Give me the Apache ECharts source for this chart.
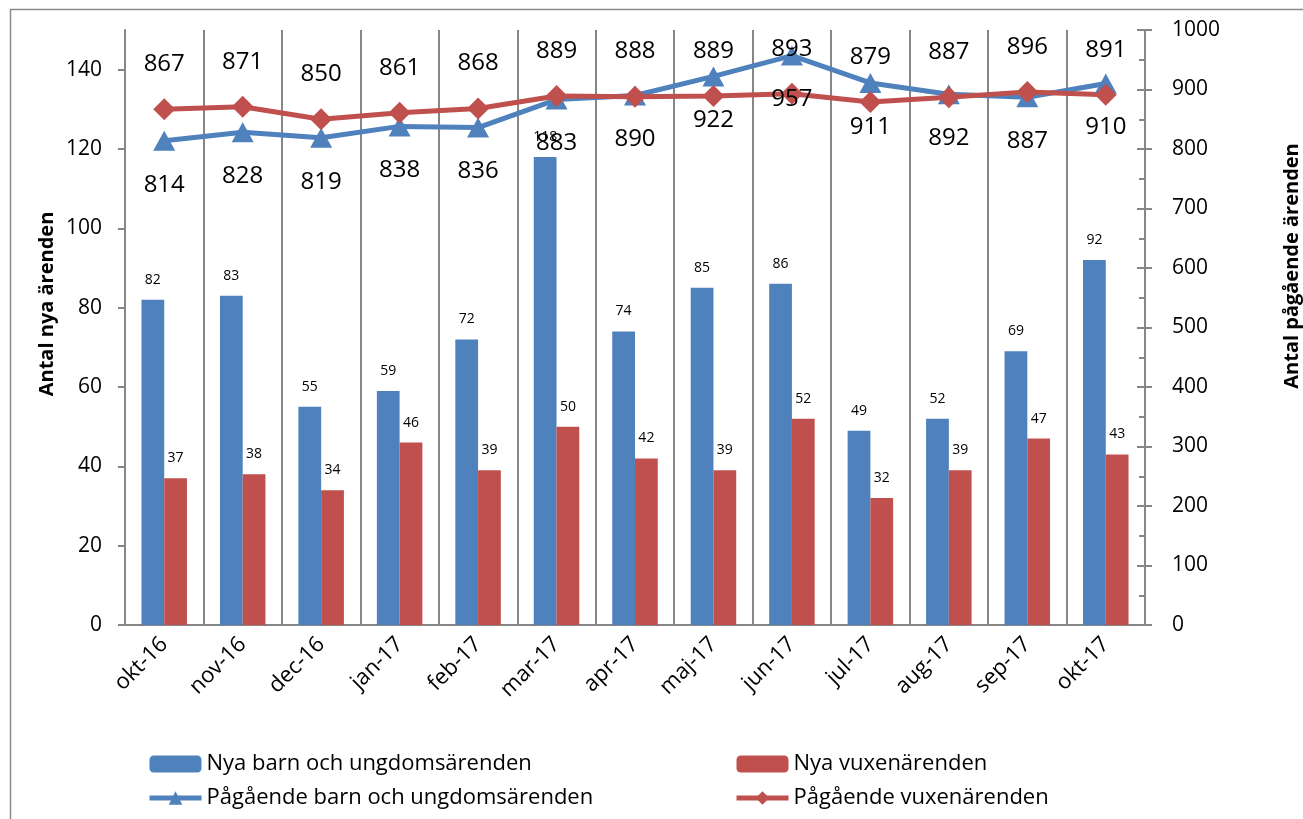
<!DOCTYPE html>
<html>
<head>
<meta charset="utf-8">
<script src="https://cdn.jsdelivr.net/npm/echarts@6/dist/echarts.min.js"></script>
<style>
  html, body { margin: 0; padding: 0; background: #fff; }
  #chart { width: 1303px; height: 819px; }
</style>
</head>
<body>
<div id="chart"></div>
<script>
  // data
  const months = ['okt-16', 'nov-16', 'dec-16', 'jan-17', 'feb-17', 'mar-17', 'apr-17',
    'maj-17', 'jun-17', 'jul-17', 'aug-17', 'sep-17', 'okt-17']
  const nyaBarn = [82, 83, 55, 59, 72, 118, 74, 85, 86, 49, 52, 69, 92]
  const nyaVuxen = [37, 38, 34, 46, 39, 50, 42, 39, 52, 32, 39, 47, 43]
  const pagBarn = [814, 828, 819, 838, 836, 883, 890, 922, 957, 911, 892, 887, 910]
  const pagVuxen = [867, 871, 850, 861, 868, 889, 888, 889, 893, 879, 887, 896, 891]

  const names = ['Nya barn och ungdomsärenden', 'Nya vuxenärenden',
    'Pågående barn och ungdomsärenden', 'Pågående vuxenärenden']

  const blue = '#4F81BD'
  const red = '#C0504D'
  const grey = '#868686'
  const font = '"Open Sans", sans-serif'

  const chart = echarts.init(document.getElementById('chart'))

  const legendText = { fontFamily: font, fontSize: 22, color: '#000', lineHeight: 26 }
  const legendBase = {
    orient: 'vertical',
    top: 746,
    itemWidth: 52,
    itemHeight: 17,
    itemGap: 8,
    lineStyle: { width: 5 },
    textStyle: legendText
  }

  chart.setOption({
    animation: false,
    backgroundColor: '#fff',
    textStyle: { fontFamily: font },
    grid: { left: 125, right: 158, top: 30, bottom: 194 },
    legend: [
      Object.assign({ data: [names[0], names[2]], left: 142 }, legendBase),
      Object.assign({ data: [names[1], names[3]], left: 729 }, legendBase)
    ],
    xAxis: {
      type: 'category',
      data: months,
      axisLine: { lineStyle: { color: grey, width: 2 } },
      axisTick: { length: 8, lineStyle: { color: grey, width: 2 } },
      splitLine: { show: true, lineStyle: { color: grey, width: 2 } },
      axisLabel: { rotate: 45, margin: 16, fontSize: 22, color: '#000', fontFamily: font }
    },
    yAxis: [{
      type: 'value',
      min: 0,
      max: 150,
      interval: 20,
      axisLine: { show: true, lineStyle: { color: grey, width: 2 } },
      axisTick: { show: true, length: 7, lineStyle: { color: grey, width: 2 } },
      splitLine: { show: false },
      axisLabel: { showMaxLabel: false, margin: 23, fontSize: 21, color: '#000', fontFamily: font }
    }, {
      type: 'value',
      position: 'right',
      min: 0,
      max: 1000,
      interval: 100,
      axisLine: { show: true, lineStyle: { color: grey, width: 2 } },
      axisTick: { show: true, inside: true, length: 8, lineStyle: { color: grey, width: 2 } },
      minorTick: { show: true, splitNumber: 2, length: 6, lineStyle: { color: grey, width: 2 } },
      splitLine: { show: false },
      axisLabel: {
        margin: 27, fontSize: 21, color: '#000', fontFamily: font,
        formatter: function(v) { return String(v) }
      }
    }, {
      // outer half of the crossing ticks on the right axis
      type: 'value',
      position: 'right',
      min: 0,
      max: 1000,
      interval: 100,
      axisLine: { show: false },
      axisTick: { show: true, length: 7, lineStyle: { color: grey, width: 2 } },
      splitLine: { show: false },
      axisLabel: { show: false }
    }],
    series: [{
      name: names[0],
      type: 'bar',
      data: nyaBarn,
      barGap: '0%',
      barCategoryGap: '42%',
      itemStyle: { color: blue },
      label: { show: true, position: 'top', distance: 13, fontSize: 14, color: '#000', fontFamily: font }
    }, {
      name: names[1],
      type: 'bar',
      data: nyaVuxen,
      itemStyle: { color: red },
      label: { show: true, position: 'top', distance: 13, fontSize: 14, color: '#000', fontFamily: font }
    }, {
      name: names[2],
      type: 'line',
      yAxisIndex: 1,
      data: pagBarn,
      symbol: 'triangle',
      symbolSize: [22, 20],
      lineStyle: { color: blue, width: 5 },
      itemStyle: { color: blue },
      label: { show: true, position: 'bottom', distance: 22, fontSize: 24, color: '#000', fontFamily: font }
    }, {
      name: names[3],
      type: 'line',
      yAxisIndex: 1,
      data: pagVuxen,
      symbol: 'diamond',
      symbolSize: [22, 22],
      lineStyle: { color: red, width: 5 },
      itemStyle: { color: red },
      label: { show: true, position: 'top', distance: 22, fontSize: 24, color: '#000', fontFamily: font }
    }],
    graphic: [{
      type: 'rect',
      shape: { x: 10.5, y: 9.5, width: 1400, height: 900 },
      style: { fill: 'none', stroke: '#8a8a8a', lineWidth: 1.5 },
      silent: true
    }, {
      type: 'text',
      x: 47,
      y: 304,
      rotation: Math.PI / 2,
      style: {
        text: 'Antal nya ärenden',
        font: 'bold 20px "Open Sans", sans-serif',
        fill: '#000',
        align: 'center',
        verticalAlign: 'middle',
        textAlign: 'center',
        textVerticalAlign: 'middle'
      }
    }, {
      type: 'text',
      x: 1292,
      y: 266,
      rotation: Math.PI / 2,
      style: {
        text: 'Antal pågående ärenden',
        font: 'bold 20px "Open Sans", sans-serif',
        fill: '#000',
        align: 'center',
        verticalAlign: 'middle',
        textAlign: 'center',
        textVerticalAlign: 'middle'
      }
    }]
  })
</script>
</body>
</html>
